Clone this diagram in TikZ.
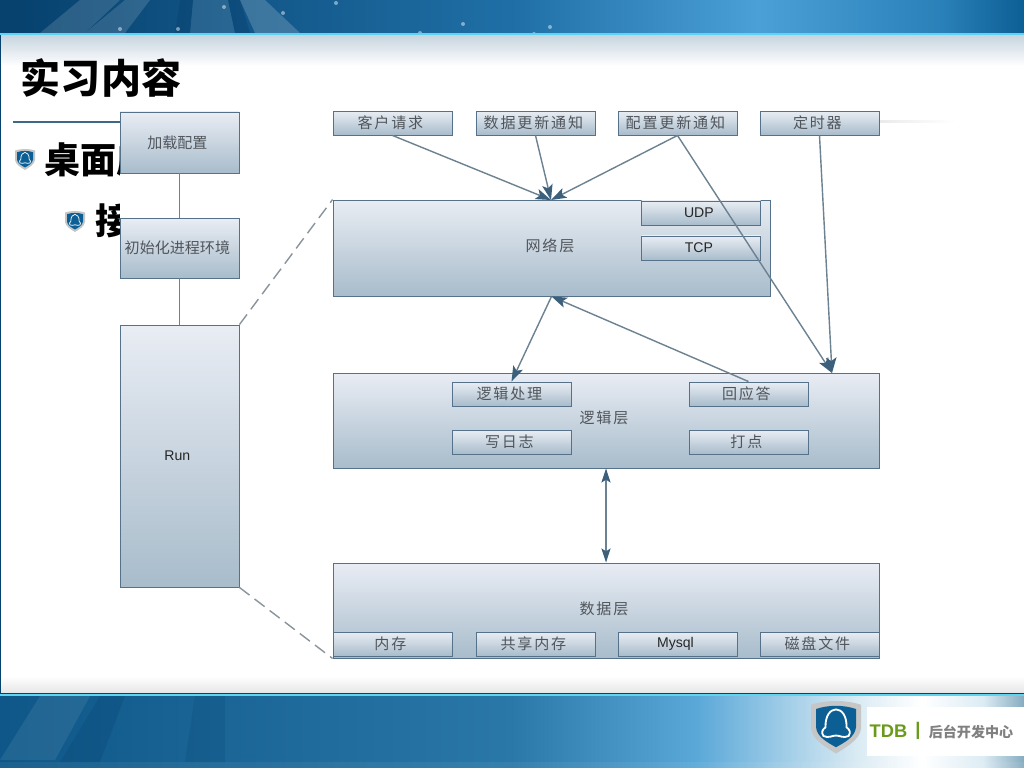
\documentclass[tikz,border=0pt]{standalone}
\usepackage{fontspec}
\usepackage{xcolor}
\usetikzlibrary{arrows.meta}
\setmainfont{Liberation Sans}
\newfontfamily\cjk{Noto Sans CJK SC}
\newfontfamily\cjkwide[LetterSpace=12]{Noto Sans CJK SC}
\definecolor{mBoxTop}{HTML}{E9EDF4}
\definecolor{mBoxBot}{HTML}{A8BCCB}
\definecolor{mEdge}{HTML}{56728A}
\definecolor{mLine}{HTML}{6C8291}
\definecolor{mTip}{HTML}{3C607C}
\definecolor{mText}{HTML}{50555B}
\definecolor{mDash}{HTML}{8A949B}
\definecolor{mNavy}{HTML}{07426F}
\definecolor{mSea}{HTML}{1F6FA6}
\definecolor{mSky}{HTML}{4BA0D8}
\definecolor{mMid}{HTML}{2A80B8}
\definecolor{mDeep}{HTML}{0C5F95}
\definecolor{mLow}{HTML}{0E5788}
\definecolor{mLowMid}{HTML}{2A78A8}
\definecolor{mLowSky}{HTML}{5AA8D8}
\definecolor{mPale}{HTML}{DCECF4}
\definecolor{mSlate}{HTML}{86ABC0}
\definecolor{mFade}{HTML}{C5D3DE}
\definecolor{mCyan}{HTML}{5CD4F2}
\definecolor{mGreen}{HTML}{6A9A1A}
\definecolor{mShield}{HTML}{2A90C0}
\definecolor{mRule}{HTML}{3C6A85}
\pgfdeclarehorizontalshading{topband}{100bp}{color(0bp)=(mNavy); color(26bp)=(mNavy);
  color(50bp)=(mSea); color(62bp)=(mSky); color(71bp)=(mMid); color(75bp)=(mDeep); color(100bp)=(mDeep)}
\pgfdeclarehorizontalshading{lowband}{100bp}{color(0bp)=(mLow); color(25bp)=(mLow);
  color(50bp)=(mLowMid); color(59bp)=(mLowSky); color(67bp)=(mPale); color(70bp)=(white);
  color(73bp)=(mPale); color(75bp)=(mSlate); color(100bp)=(mSlate)}
\tikzset{
  shieldmark/.pic={
    \fill[gray!45] (-1,-.85) .. controls (-.4,-1.05) and (.4,-1.05) .. (1,-.85) -- (1,.1)
      .. controls (.95,.55) and (.4,.85) .. (0,1.1) .. controls (-.4,.85) and (-.95,.55) .. (-1,.1) -- cycle;
    \shade[top color=mDeep, middle color=mShield, bottom color=mDeep] (-.8,-.68) .. controls (-.3,-.85) and (.3,-.85) .. (.8,-.68) -- (.8,.05)
      .. controls (.75,.45) and (.35,.65) .. (0,.85) .. controls (-.35,.65) and (-.75,.45) .. (-.8,.05) -- cycle;
    \draw[white] (-.42,.05) .. controls (-.45,-.9) and (.45,-.9) .. (.42,.05)
      .. controls (.55,.15) and (.6,.25) .. (.5,.4) .. controls (.3,.5) and (.15,.38) .. (0,.38)
      .. controls (-.15,.38) and (-.3,.5) .. (-.5,.4) .. controls (-.6,.25) and (-.55,.15) .. (-.42,.05) -- cycle;
  },
  layer/.style={draw=mEdge, line width=.65pt, top color=mBoxTop, bottom color=mBoxBot,
                minimum width=119*0.025cm, inner sep=0pt, text=mText,
                font=\fontsize{10.7pt}{12pt}\cjkwide, execute at end node=\hspace*{3pt}},
  tag/.style={layer, minimum height=0.6cm},
  latin/.style={font=\fontsize{10pt}{12pt}\selectfont, text=black!85},
  layername/.style={text=mText, font=\fontsize{10.7pt}{12pt}\cjkwide},
  flow/.style={draw=mLine, line width=1pt, -{Stealth[length=11pt, width=7.5pt, inset=2.5pt, color=mTip]}},
  twoway/.style={draw=mLine, line width=1pt, {Stealth[length=10pt, width=6.5pt, inset=2pt, color=mTip]}-{Stealth[length=10pt, width=6.5pt, inset=2pt, color=mTip]}},
  link/.style={draw=mLine, line width=1pt},
  zoomline/.style={draw=mDash, line width=1pt, dash pattern=on 9pt off 4.5pt},
  heading/.style={font=\fontsize{28.5pt}{30pt}\cjk\bfseries, text=black, inner sep=0pt},
  bullet/.style={font=\fontsize{25.6pt}{28pt}\cjk\bfseries, text=black, inner sep=0pt, anchor=west},
}
\begin{document}
\begin{tikzpicture}[x=0.025cm, y=-0.025cm]
  \useasboundingbox (0,0) rectangle (1024,768);
  % slide backdrop
  \shade[shading=topband] (0,0) rectangle (1024,34);
  \fill[white, opacity=.14] (40,33) -- (80,0) -- (120,0) -- (85,33) -- cycle;
  \fill[white, opacity=.14] (85,33) -- (125,0) -- (150,0) -- (125,33) -- cycle;
  \fill[white, opacity=.18] (240,0) -- (265,0) -- (300,33) -- (255,33) -- cycle;
  \fill[white, opacity=.1] (193,0) -- (228,0) -- (235,33) -- (190,33) -- cycle;
  \fill[mNavy, opacity=.45] (180,0) -- (193,0) -- (190,33) -- (175,33) -- cycle;
  \fill[mNavy, opacity=.45] (228,0) -- (240,0) -- (250,33) -- (235,33) -- cycle;
  \foreach \px/\py in {120/29, 178/29, 224/7, 283/13, 336/3, 463/24, 420/33, 550/27, 534/34}
    \fill[white, opacity=.45] (\px,\py) circle (2);
  \shade[shading=lowband] (0,694) rectangle (1024,768);
  \fill[white, opacity=.06] (0,762) rectangle (1024,768);
  \fill[white, opacity=.08] (0,760) -- (40,696) -- (90,696) -- (55,760) -- cycle;
  \fill[mNavy, opacity=.25] (60,762) -- (100,696) -- (125,696) -- (100,762) -- cycle;
  \fill[mNavy, opacity=.2] (185,762) -- (195,696) -- (225,696) -- (225,762) -- cycle;
  \fill[white] (0,34) rectangle (1024,694);
  \shade[top color=mFade, bottom color=white] (0,34) rectangle (1024,66);
  \shade[top color=white, bottom color=black!10] (0,676) rectangle (1024,693);
  \fill[mNavy] (0,34) rectangle (1.5,694);
  \fill[mNavy] (0,692.5) rectangle (1024,694);
  \fill[mCyan] (0,33.5) rectangle (1024,35);
  \fill[mCyan] (0,694) rectangle (1024,695.5);
  % slide texts
  \node[heading] (title) at (101,78) {实习内容};
  \draw[draw=mRule, line width=1.6pt] (13,122) -- (120,122);
  \shade[left color=black!8, right color=white] (880,121) rectangle (955,123);
  \pic[scale=10, line width=.5pt] at (25,159) {shieldmark};
  \pic[scale=10, line width=.5pt] at (75,221) {shieldmark};
  \node[bullet] (topic) at (44,160) {桌面应};
  \node[bullet] (subtopic) at (95,221) {接};
  \fill[white] (120,112) rectangle (880,660);
  \begin{scope}
    \clip (120,112) rectangle (1024,768);
    % init chain
    \node[layer, minimum height=61*0.025cm] (load) at (179.5,142.5) {\fontsize{10.7pt}{12pt}\cjk 加载配置};
    \node[layer, minimum height=60*0.025cm] (init) at (179.5,248) {\fontsize{10.7pt}{12pt}\cjk 初始化进程环境};
    \node[layer, minimum height=262*0.025cm, latin] (run) at (179.5,456) {Run};
    % sources
    \node[tag] (client) at (392.5,123) {客户请求};
    \node[tag] (datanote) at (535.5,123) {数据更新通知};
    \node[tag] (confnote) at (677.5,123) {配置更新通知};
    \node[tag] (timer) at (819.5,123) {定时器};
    % network layer
    \node[layer, minimum width=437*0.025cm, minimum height=96*0.025cm] (net) at (551.5,248) {};
    \node[layername] (netname) at (550,246) {网络层};
    \node[tag, latin] (udp) at (701,213) {UDP};
    \node[tag, latin] (tcp) at (701,248) {TCP};
    % logic layer
    \node[layer, minimum width=546*0.025cm, minimum height=95*0.025cm] (logic) at (606,420.5) {};
    \node[layername] (logicname) at (604,418) {逻辑层};
    \node[tag] (proc) at (511.5,394) {逻辑处理};
    \node[tag] (reply) at (748.5,394) {回应答};
    \node[tag] (logs) at (511.5,442) {写日志};
    \node[tag] (stat) at (748.5,442) {打点};
    % data layer
    \node[layer, minimum width=546*0.025cm, minimum height=95*0.025cm] (store) at (606,610.5) {};
    \node[layername] (storename) at (604,609) {数据层};
    \node[tag] (mem) at (392.5,644) {内存};
    \node[tag] (shm) at (535.5,644) {共享内存};
    \node[tag, latin] (mysql) at (677.5,644) {Mysql};
    \node[tag] (disk) at (819.5,644) {磁盘文件};
  \end{scope}
  \coordinate (netin) at (551,200);
  \coordinate (logicin) at (832,373);
  \draw[link] (load) -- (init);
  \draw[link] (init) -- (run);
  \draw[zoomline] (run.north east) -- (net.north west);
  \draw[zoomline] (run.south east) -- (store.south west);
  \draw[flow] (client.south) -- (netin);
  \draw[flow] (datanote.south) -- (netin);
  \draw[flow] (confnote.south) -- (netin);
  \draw[flow] (confnote.south) -- (logicin);
  \draw[flow] (timer.south) -- (logicin);
  \draw[flow] (net.south) -- (proc.north);
  \draw[flow] (reply.north) -- (net.south);
  \draw[twoway] (logic.south) -- (store.north);
  % footer brand
  \fill[white] (867,707) rectangle (1024,756);
  \pic[scale=25, line width=1.3pt] at (836,726) {shieldmark};
  \node[font=\fontsize{13pt}{14pt}\bfseries, text=mGreen, inner sep=0pt] (brand) at (888.5,731) {TDB};
  \node[font=\fontsize{13pt}{14pt}\bfseries, text=mGreen, inner sep=0pt] (sep) at (918,731) {|};
  \node[font=\fontsize{10pt}{12pt}\cjk\bfseries, text=black!50, inner sep=0pt] (dept) at (971,732) {后台开发中心};
\end{tikzpicture}
\end{document}
